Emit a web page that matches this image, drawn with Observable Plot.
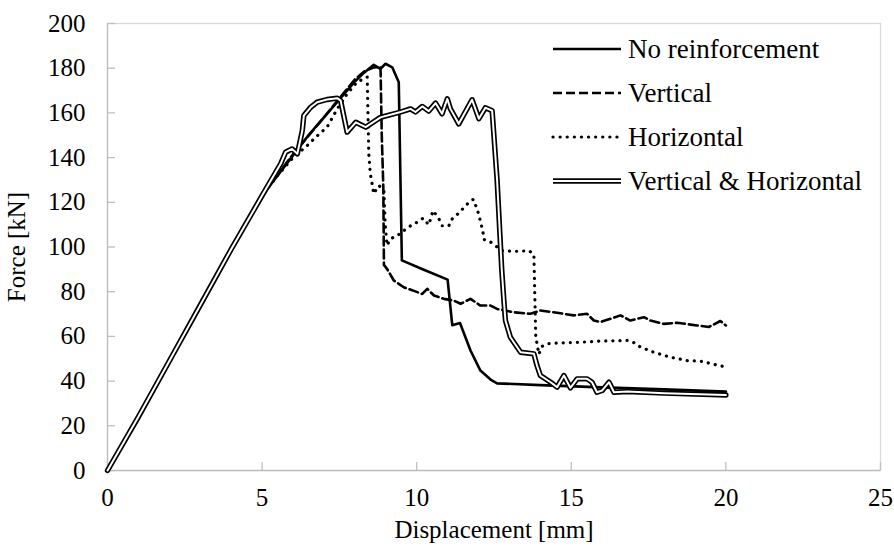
<!DOCTYPE html>
<html>
<head>
<meta charset="utf-8">
<script src="https://cdn.jsdelivr.net/npm/d3@7"></script>
<script src="https://cdn.jsdelivr.net/npm/@observablehq/plot@0.6"></script>
<style>
  body { margin: 0; background: #fff; }
  #chart svg { display: block; }
</style>
</head>
<body>
<div id="chart"></div>
<script>
// Axis ticks
const xTicks = [0, 5, 10, 15, 20, 25];
const yTicks = [0, 20, 40, 60, 80, 100, 120, 140, 160, 180, 200];

// Series names (legend order)
const seriesNames = ["No reinforcement", "Vertical", "Horizontal", "Vertical & Horizontal"];

// No reinforcement: displacement [mm] / force [kN]
const noReinfX = [0, 1, 2, 3, 4, 5, 6, 6.5, 7, 7.5, 8, 8.3, 8.61, 8.83, 8.99, 9.21, 9.42, 9.52, 10.23, 11.0, 11.15, 11.4, 11.74, 12.06, 12.39, 12.6, 14, 16, 18, 20];
const noReinfY = [0, 24, 49, 74, 99, 123, 141, 150, 158, 166, 174, 178, 181.5, 179.7, 182, 180.4, 173.7, 94, 89.8, 85.4, 65, 66, 53.7, 44.7, 40.7, 39, 38.2, 37.2, 36.3, 35.3];

// Vertical reinforcement
const verticalX = [0, 1, 2, 3, 4, 5, 6, 7, 7.5, 8, 8.3, 8.6, 8.83, 8.87, 8.92, 8.94, 9.04, 9.26, 9.58, 10.02, 10.18, 10.34, 10.56, 10.88, 11.2, 11.42, 11.74, 12.06, 12.39, 12.6, 13.14, 13.68, 14.0, 14.43, 15.08, 15.51, 15.73, 15.94, 16.27, 16.59, 16.91, 17.35, 17.56, 17.99, 18.42, 19.07, 19.45, 19.82, 20];
const verticalY = [0, 24, 49, 74, 99, 123, 141.5, 158, 166.5, 175, 178.5, 180.3, 180.5, 150, 127, 92, 90.2, 85, 82, 79.8, 79, 81.3, 78.3, 76.8, 76, 74.6, 76.8, 73.8, 73.8, 72.3, 70.8, 70.1, 71.6, 70.8, 69.4, 70.1, 67.1, 66.4, 67.9, 69.4, 67.1, 68.6, 67.1, 65.6, 66.1, 64.9, 64.2, 66.9, 64.9];

// Horizontal reinforcement
const horizontalX = [0, 1, 2, 3, 4, 5, 5.5, 6, 6.46, 6.73, 7.1, 7.43, 7.75, 8.07, 8.4, 8.45, 8.5, 8.56, 8.61, 8.7, 8.78, 8.94, 8.98, 9.04, 9.15, 9.37, 9.74, 9.98, 10.21, 10.39, 10.53, 10.72, 10.82, 11.04, 11.15, 11.33, 11.52, 11.69, 11.83, 11.93, 12.01, 12.14, 12.17, 12.39, 12.6, 12.76, 13.03, 13.36, 13.63, 13.79, 13.85, 13.95, 14.05, 14.22, 14.65, 15.3, 15.94, 16.81, 17.0, 17.24, 17.67, 18.2, 18.75, 19.23, 19.77, 20];
const horizontalY = [0, 24, 49, 74, 99, 123, 132, 140, 145.4, 149.1, 153.6, 161.8, 168.5, 173.8, 176, 141.7, 132.7, 128, 123.8, 126, 127.5, 125.3, 110, 100.7, 103.7, 105, 109, 110.8, 112.9, 109.9, 116.3, 112.6, 109.5, 109.5, 112.6, 114.8, 117.5, 120, 121.3, 117.8, 114.4, 107, 103.4, 102.2, 100, 98.4, 98.1, 98.1, 98.4, 96.6, 60, 52, 55.5, 56.7, 57.1, 57.4, 57.9, 58.2, 57.4, 55.2, 52.9, 50.7, 49.2, 48.8, 47, 46.3];

// Vertical & horizontal reinforcement
const bothX = [0, 1, 2, 3, 4, 5, 5.6, 5.76, 5.97, 6.14, 6.3, 6.35, 6.57, 6.78, 7.1, 7.43, 7.54, 7.75, 8.03, 8.35, 8.83, 9.48, 9.8, 9.96, 10.18, 10.39, 10.61, 10.82, 10.99, 11.09, 11.36, 11.79, 12.01, 12.22, 12.44, 12.6, 12.75, 12.82, 12.87, 13.03, 13.36, 13.79, 13.89, 14.0, 14.33, 14.54, 14.76, 14.97, 15.19, 15.51, 15.67, 15.83, 16.0, 16.22, 16.38, 16.81, 18, 20];
const bothY = [0, 24, 49, 74, 99, 123, 137.2, 142.4, 143.9, 141.7, 152, 158.8, 162.5, 164.8, 166, 166.6, 165.5, 151.4, 155.8, 153.6, 158, 160.4, 161.8, 160.4, 162.9, 160.8, 164.4, 159.6, 166.3, 161.8, 155.1, 165.9, 157.4, 162.3, 161, 130, 90, 76, 67.1, 59.6, 52.9, 52.2, 47, 42.5, 39.5, 37.3, 42.5, 37, 41, 41, 39.5, 35, 35.8, 39.5, 35, 35.3, 34.6, 33.8];

const rows = (xs, ys) => xs.map((x, i) => ({x, y: ys[i]}));
const noReinf = rows(noReinfX, noReinfY);
const vertical = rows(verticalX, verticalY);
const horizontal = rows(horizontalX, horizontalY);
const both = rows(bothX, bothY);

// Line styles shared by the curves and the legend
const styles = [
  {stroke: "#000", strokeWidth: 2.6},
  {stroke: "#000", strokeWidth: 2.6, strokeDasharray: "9,4"},
  {stroke: "#000", strokeWidth: 3.2, strokeDasharray: "0.1,7", strokeLinecap: "round"},
  {stroke: "#000", strokeWidth: 5.4}
];
const innerWhite = {stroke: "#fff", strokeWidth: 2};

const axisGray = "#bfbfbf";
const TICK = 8;
const serif = "'Liberation Serif', 'Times New Roman', serif";

const chart = Plot.plot({
  width: 894,
  height: 552,
  marginLeft: 107,
  marginRight: 14,
  marginTop: 23,
  marginBottom: 82,
  style: {fontFamily: serif, fontSize: "25px", color: "#000", background: "#fff"},
  x: {domain: [0, 25]},
  y: {domain: [0, 200]},
  marks: [
    Plot.frame({stroke: "#d9d9d9", strokeWidth: 1.3}),
    // inner tick marks
    Plot.tickX(xTicks, {x: d => d, stroke: axisGray, strokeWidth: 1.3, insetTop: 447 - TICK}),
    Plot.tickY(yTicks, {y: d => d, stroke: axisGray, strokeWidth: 1.3, insetRight: 773 - TICK}),
    Plot.ruleX([0], {stroke: axisGray, strokeWidth: 1.3}),
    Plot.ruleY([0], {stroke: axisGray, strokeWidth: 1.3}),
    Plot.axisX({ticks: xTicks, tickSize: 0, tickPadding: 18, label: "Displacement [mm]", labelAnchor: "center", labelArrow: "none", labelOffset: 67}),
    Plot.axisY({ticks: yTicks, tickSize: 0, tickPadding: 22, label: "Force [kN]", labelAnchor: "center", labelArrow: "none", labelOffset: 100}),
    Plot.line(noReinf, {x: "x", y: "y", ...styles[0]}),
    Plot.line(vertical, {x: "x", y: "y", ...styles[1]}),
    Plot.line(horizontal, {x: "x", y: "y", ...styles[2]}),
    Plot.line(both, {x: "x", y: "y", ...styles[3]}),
    Plot.line(both, {x: "x", y: "y", ...innerWhite})
  ]
});

document.getElementById("chart").appendChild(chart);

// Legend drawn in the upper right of the plot area
const svg = d3.select(chart);
const legend = svg.append("g")
  .attr("font-family", serif)
  .attr("font-size", 27)
  .attr("text-anchor", "start");
seriesNames.forEach((name, i) => {
  const y = 49 + i * 44;
  const s = styles[i];
  const line = legend.append("line")
    .attr("x1", 553).attr("x2", 621).attr("y1", y).attr("y2", y)
    .attr("stroke", s.stroke).attr("stroke-width", s.strokeWidth);
  if (s.strokeDasharray) line.attr("stroke-dasharray", s.strokeDasharray);
  if (s.strokeLinecap) line.attr("stroke-linecap", s.strokeLinecap);
  if (i === 3) {
    legend.append("line")
      .attr("x1", 553).attr("x2", 621).attr("y1", y).attr("y2", y)
      .attr("stroke", innerWhite.stroke).attr("stroke-width", innerWhite.strokeWidth);
  }
  legend.append("text")
    .attr("x", 628).attr("y", y).attr("dy", "0.32em")
    .attr("text-anchor", "start")
    .attr("fill", "#000")
    .text(name);
});
</script>
</body>
</html>
